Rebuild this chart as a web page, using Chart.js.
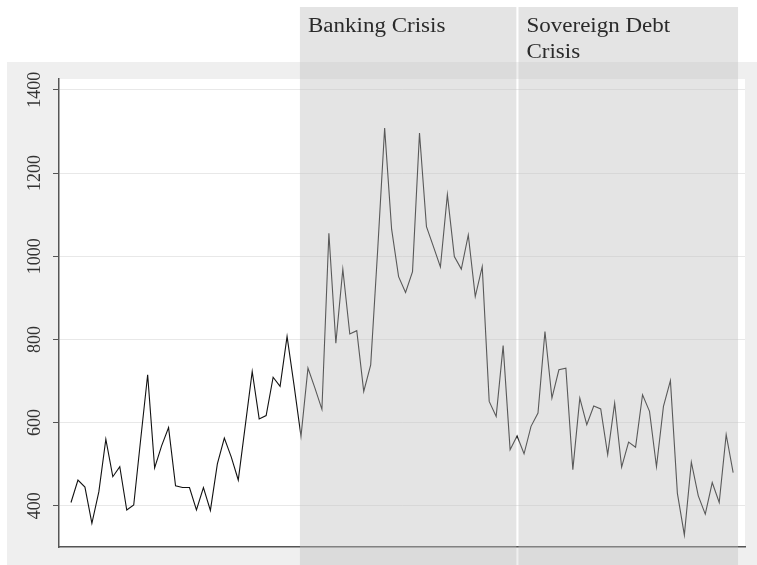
<!DOCTYPE html>
<html lang="en">

<head>
    <meta charset="UTF-8">
    <title>Banking and Sovereign Debt Crisis</title>
    <style>
        body {
            margin: 0;
            background-color: #fff;
        }
    </style>
</head>

<body>
    <canvas id="lineChart" width="757" height="565"></canvas>

    <script src="https://cdn.jsdelivr.net/npm/chart.js"></script>
    <script>
// monthly series, one value per month (96 months)
const values = [
    408, 462, 445, 358, 434, 560, 470, 494, 390, 402,
    560, 715, 491, 544, 588, 448, 444, 444, 390, 444,
    389, 501, 563, 517, 462, 592, 723, 609, 617, 709,
    687, 807, 690, 567, 731, 683, 632, 1055, 791, 969,
    813, 821, 675, 739, 1015, 1308, 1065, 951, 913, 963,
    1296, 1071, 1023, 974, 1148, 999, 969, 1051, 903, 975,
    651, 615, 785, 535, 568, 525, 591, 623, 819, 659,
    727, 731, 487, 659, 595, 640, 633, 523, 647, 493,
    553, 541, 667, 627, 494, 639, 701, 430, 330, 505,
    424, 380, 456, 408, 571, 480
];
const yTicks = [400, 600, 800, 1000, 1200, 1400];

// crisis periods, in month index units
const periodNames = [['Banking Crisis'], ['Sovereign Debt', 'Crisis']];
const periodStart = [32.85, 64.2];
const periodEnd = [63.9, 95.7];

const points = values.map((v, i) => ({ x: i, y: v }));

// grey frame behind the plot, shaded periods on top
const backdrop = {
    id: 'backdrop',
    beforeDraw(chart) {
        const { ctx, chartArea: a } = chart;
        ctx.save();
        ctx.fillStyle = '#fff';
        ctx.fillRect(0, 0, chart.width, chart.height);
        ctx.fillStyle = '#efefef';
        ctx.fillRect(7, 62, chart.width - 7, chart.height - 62);
        ctx.fillStyle = '#fff';
        ctx.fillRect(a.left, a.top, a.right - a.left, a.bottom - a.top);
        ctx.restore();
    },
    afterDraw(chart) {
        const { ctx } = chart;
        const xs = chart.scales.x;
        ctx.save();
        periodStart.forEach((s, k) => {
            const x0 = xs.getPixelForValue(s);
            const x1 = xs.getPixelForValue(periodEnd[k]);
            ctx.fillStyle = 'rgba(190, 190, 190, 0.42)';
            ctx.fillRect(x0, 7, x1 - x0, chart.height - 7);

            ctx.fillStyle = '#2a2a2a';
            ctx.font = '20px "Liberation Serif"';
            ctx.textBaseline = 'alphabetic';
            periodNames[k].forEach((line, j) => {
                ctx.save();
                ctx.translate(x0 + 8, 32 + j * 26);
                ctx.scale(1.15, 1);
                ctx.fillText(line, 0, 0);
                ctx.restore();
            });
        });
        ctx.restore();
    }
};

const ctx = document.getElementById('lineChart').getContext('2d');
new Chart(ctx, {
    type: 'line',
    data: {
        datasets: [{
            data: points,
            borderColor: '#111',
            borderWidth: 1.1,
            pointRadius: 0,
            tension: 0,
            fill: false
        }]
    },
    options: {
        responsive: false,
        animation: false,
        layout: { padding: { top: 79, right: 12, left: 0, bottom: 0 } },
        plugins: {
            legend: { display: false },
            tooltip: { enabled: false }
        },
        scales: {
            x: {
                type: 'linear',
                min: -1.72,
                max: 96.7,
                ticks: { display: false },
                grid: { display: false },
                border: { color: '#555', width: 1.5 },
                afterFit: (scale) => { scale.height = 18; }
            },
            y: {
                min: 301,
                max: 1426,
                afterBuildTicks: (scale) => {
                    scale.ticks = yTicks.map(v => ({ value: v }));
                },
                ticks: {
                    color: '#333',
                    font: { family: 'Liberation Serif', size: 18 },
                    minRotation: 90,
                    maxRotation: 90,
                    crossAlign: 'center',
                    padding: 0,
                    callback: (value) => String(value)
                },
                grid: {
                    color: '#e8e8e8',
                    tickColor: '#555',
                    tickLength: 6
                },
                border: { color: '#555', width: 1.5 },
                afterFit: (scale) => { scale.width = 59; }
            }
        }
    },
    plugins: [backdrop]
});
    </script>

</body>

</html>
